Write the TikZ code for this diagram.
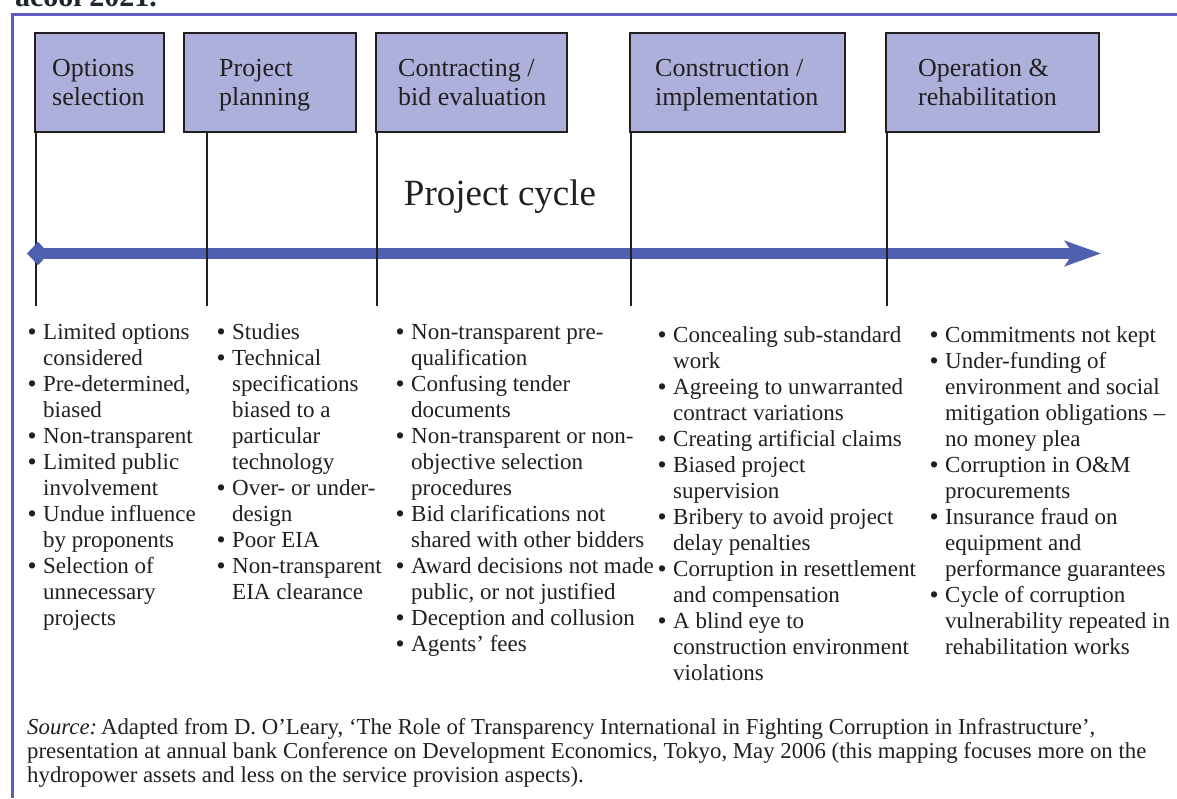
\documentclass[tikz,border=0pt]{standalone}
\usepackage{fontspec}
\setmainfont{Liberation Serif}
\usetikzlibrary{arrows.meta,shapes.geometric}
\definecolor{framec}{HTML}{5B5BC6}
\definecolor{arrowc}{HTML}{5060B0}
\definecolor{boxfill}{HTML}{ACB0DA}
\definecolor{ink}{HTML}{231F20}
\definecolor{titleink}{HTML}{1B2631}
\newcommand{\bl}{\llap{\textbf{\textbullet}\hspace{7pt}}}
\newcommand{\lines}[1]{\begin{tabular}[t]{@{}l@{}}#1\end{tabular}}
\begin{document}
\begin{tikzpicture}[x=1pt,y=-1pt,
  stagebox/.style={draw=ink, line width=2pt, fill=boxfill, minimum height=99pt, inner sep=0pt},
  stagetext/.style={anchor=base west, inner sep=0pt, text=ink, font=\fontsize{26}{29}\selectfont},
  listtext/.style={anchor=base west, inner sep=0pt, text=ink, font=\fontsize{23}{26}\selectfont},
  stageline/.style={draw=ink, line width=2pt},
  framel/.style={draw=framec, line width=3pt},
]
\useasboundingbox (0,0) rectangle (1177,798);
\clip (0,0) rectangle (1177,798);
\fill[white] (0,0) rectangle (1177,798);

% cropped caption at top
\node[anchor=base east, inner sep=0pt, text=titleink, font=\bfseries\fontsize{30}{34}\selectfont] (cap) at (157,6) {acool 2021.};

% frame
\draw[framel] (1177,14) -- (12,14) -- (12,798);

% stage boxes
\node[stagebox, minimum width=129pt] (b1) at (99.5,82.5) {};
\node[stagebox, minimum width=172pt] (b2) at (270,82.5) {};
\node[stagebox, minimum width=191pt] (b3) at (471.5,82.5) {};
\node[stagebox, minimum width=215pt] (b4) at (737.5,82.5) {};
\node[stagebox, minimum width=213pt] (b5) at (992.5,82.5) {};

\node[stagetext] (t1) at (52,76) {\lines{Options\\selection}};
\node[stagetext] (t2) at (219,76) {\lines{Project\\planning}};
\node[stagetext] (t3) at (398,76) {\lines{Contracting /\\bid evaluation}};
\node[stagetext] (t4) at (655,76) {\lines{Construction /\\implementation}};
\node[stagetext] (t5) at (918,76) {\lines{Operation \&\\rehabilitation}};

% title
\node[anchor=base, inner sep=0pt, text=ink, font=\fontsize{37}{44}\selectfont] (pc) at (500,205) {Project cycle};

% timeline arrow
\node[diamond, fill=arrowc, minimum width=22pt, minimum height=23pt, inner sep=0pt] (start) at (38,253.5) {};
\coordinate (end) at (1101,253.5);
\draw[arrowc, line width=11pt, -{Stealth[length=36pt, width=25pt, inset=8pt]}] (start.center) -- (end);

% stage lines
\coordinate (v1) at (36,306);
\coordinate (v2) at (207,306);
\coordinate (v3) at (377,306);
\coordinate (v4) at (631,306);
\coordinate (v5) at (887,306);
\draw[stageline] (v1 |- b1.south) -- (v1);
\draw[stageline] (v2 |- b2.south) -- (v2);
\draw[stageline] (v3 |- b3.south) -- (v3);
\draw[stageline] (v4 |- b4.south) -- (v4);
\draw[stageline] (v5 |- b5.south) -- (v5);
\node[diamond, fill=arrowc, minimum width=22pt, minimum height=23pt, inner sep=0pt] at (start) {};

% lists
\node[listtext] (l1) at (43,339) {\lines{%
\bl Limited options\\considered\\
\bl Pre-determined,\\biased\\
\bl Non-transparent\\
\bl Limited public\\involvement\\
\bl Undue influence\\by proponents\\
\bl Selection of\\unnecessary\\projects}};

\node[listtext] (l2) at (232,339) {\lines{%
\bl Studies\\
\bl Technical\\specifications\\biased to a\\particular\\technology\\
\bl Over- or under-\\design\\
\bl Poor EIA\\
\bl Non-transparent\\EIA clearance}};

\node[listtext] (l3) at (411,339) {\lines{%
\bl Non-transparent pre-\\qualification\\
\bl Confusing tender\\documents\\
\bl Non-transparent or non-\\objective selection\\procedures\\
\bl Bid clarifications not\\shared with other bidders\\
\bl Award decisions not made\\public, or not justified\\
\bl Deception and collusion\\
\bl Agents’ fees}};

\node[listtext] (l4) at (673,342) {\lines{%
\bl Concealing sub-standard\\work\\
\bl Agreeing to unwarranted\\contract variations\\
\bl Creating artificial claims\\
\bl Biased project\\supervision\\
\bl Bribery to avoid project\\delay penalties\\
\bl Corruption in resettlement\\and compensation\\
\bl A blind eye to\\construction environment\\violations}};

\node[listtext] (l5) at (945,342) {\lines{%
\bl Commitments not kept\\
\bl Under-funding of\\environment and social\\mitigation obligations –\\no money plea\\
\bl Corruption in O\&M\\procurements\\
\bl Insurance fraud on\\equipment and\\performance guarantees\\
\bl Cycle of corruption\\vulnerability repeated in\\rehabilitation works}};

% source
\node[anchor=base west, inner sep=0pt, text=ink, font=\fontsize{22.8}{24}\selectfont] (src) at (27,734) {\lines{%
\textit{Source:}\,Adapted from D. O’Leary, ‘The Role of Transparency International in Fighting Corruption in Infrastructure’,\\
presentation at annual bank Conference on Development Economics, Tokyo, May 2006 (this mapping focuses more on the\\
hydropower assets and less on the service provision aspects).}};
\end{tikzpicture}
\end{document}
